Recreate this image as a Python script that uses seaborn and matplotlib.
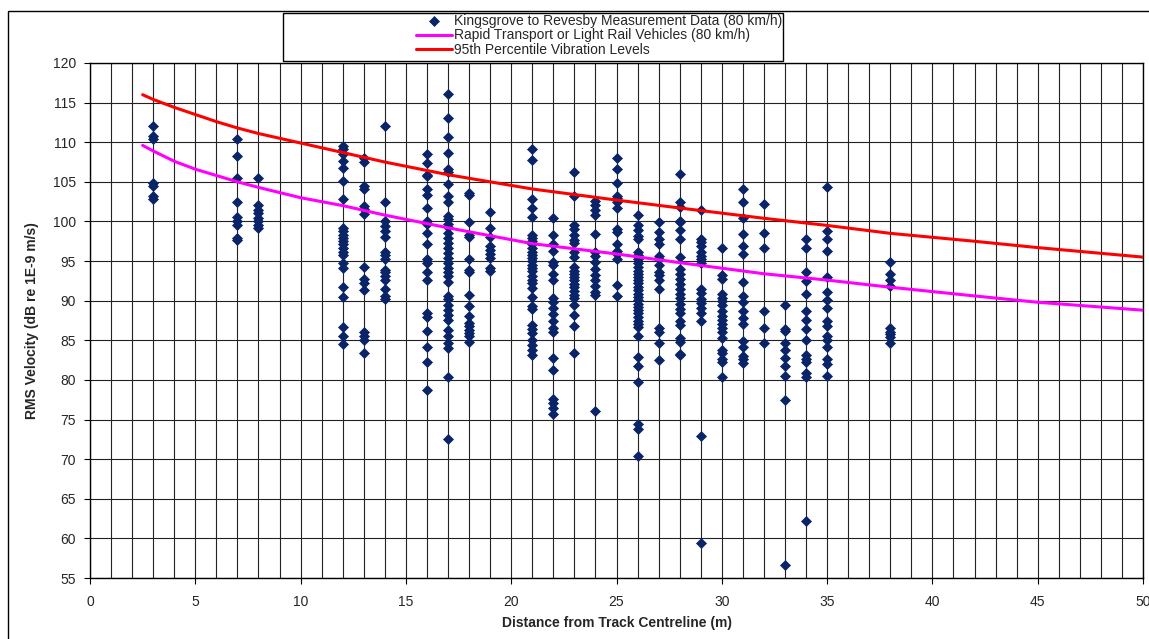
import numpy as np
import pandas as pd
import matplotlib
matplotlib.use("Agg")
import matplotlib.pyplot as plt
from matplotlib.patches import Rectangle
import seaborn as sns

# measured RMS velocity at each distance (dB re 1E-9 m/s)
meas_dist = [3, 7, 8, 12, 13, 14, 16, 17, 18, 19, 21, 22, 23, 24, 25, 26, 27, 28, 29, 30, 31, 32, 33, 34, 35, 38]
meas_db = [
    [112.1, 110.8, 110.4, 104.8, 104.5, 103.2, 102.8],
    [110.4, 108.2, 105.5, 102.5, 100.6, 100.0, 99.6, 97.9, 97.6],
    [105.5, 102.1, 101.5, 101.1, 100.4, 100.0, 99.6, 99.2],
    [109.5, 109.1, 108.5, 107.6, 106.8, 105.1, 102.8, 99.2, 98.8, 98.3, 97.9, 97.5, 97.1, 96.6, 96.2,
     95.8, 94.7, 94.1, 91.7, 90.5, 86.7, 85.5, 84.5],
    [108.0, 107.5, 104.5, 104.1, 101.9, 101.6, 100.9, 94.2, 92.8, 92.2, 91.4, 86.1, 85.5, 85.0, 83.4],
    [112.0, 102.5, 100.1, 99.4, 98.8, 98.0, 96.2, 95.8, 95.2, 93.9, 93.6, 93.1, 92.6, 91.5, 90.6, 90.2],
    [108.5, 107.4, 105.9, 105.7, 104.1, 103.4, 101.7, 100.1, 99.7, 98.5, 97.2, 95.3, 94.7, 93.6, 92.6,
     88.4, 88.0, 86.2, 84.1, 82.2, 78.7],
    [116.1, 113.0, 110.6, 108.6, 106.6, 106.2, 104.7, 103.2, 102.4, 100.7, 100.3, 99.7, 99.3, 98.6, 97.9,
     97.3, 96.6, 96.0, 95.4, 94.7, 94.1, 93.6, 93.1, 92.4, 90.6, 90.2, 89.5, 88.8, 88.2, 87.6, 86.3,
     85.5, 84.7, 84.0, 80.4, 72.6],
    [103.6, 103.3, 99.9, 98.3, 98.1, 95.2, 93.9, 93.6, 90.7, 89.3, 88.1, 87.2, 86.8, 86.3, 85.9, 85.5, 84.8],
    [101.2, 99.2, 98.0, 96.9, 96.4, 95.9, 95.4, 94.1, 93.7],
    [109.1, 107.8, 102.8, 101.7, 100.6, 98.3, 97.9, 97.5, 97.1, 96.6, 96.2, 95.8, 95.4, 95.0, 94.5, 94.1,
     93.7, 93.1, 92.6, 92.2, 91.6, 90.5, 89.3, 88.9, 86.9, 86.4, 85.9, 85.0, 84.4, 83.8, 83.1],
    [100.4, 98.3, 97.2, 96.3, 94.9, 94.5, 93.4, 92.6, 90.3, 89.8, 89.1, 88.3, 87.4, 86.6, 86.0, 82.8,
     81.3, 77.6, 77.1, 76.4, 75.7],
    [106.3, 103.2, 99.5, 99.1, 98.3, 97.6, 97.3, 96.1, 95.5, 94.2, 93.8, 93.4, 93.0, 92.6, 92.1, 91.7,
     91.2, 90.7, 90.3, 89.4, 88.2, 86.8, 83.4],
    [102.6, 102.1, 101.4, 100.8, 98.4, 96.1, 95.7, 94.9, 94.0, 93.2, 92.6, 91.8, 91.1, 90.7, 76.1],
    [108.0, 106.6, 104.9, 103.2, 102.9, 102.4, 101.7, 99.1, 98.7, 97.2, 96.3, 95.9, 95.2, 92.0, 90.6],
    [100.8, 99.6, 98.9, 98.2, 97.8, 96.2, 95.8, 95.3, 94.8, 94.2, 93.8, 93.4, 93.0, 92.6, 92.2, 91.7,
     91.3, 90.9, 90.5, 90.1, 89.6, 89.2, 88.8, 88.4, 87.9, 87.5, 87.1, 86.7, 85.5, 82.9, 81.7, 79.8,
     74.5, 73.8, 70.4],
    [99.9, 98.7, 97.8, 97.2, 95.7, 95.3, 94.5, 93.6, 93.2, 92.6, 91.5, 86.6, 86.1, 84.7, 82.5],
    [106.0, 102.4, 101.8, 100.1, 99.9, 98.9, 97.8, 95.5, 94.0, 93.4, 92.8, 92.1, 91.5, 90.9, 90.3, 89.6,
     89.0, 88.4, 87.5, 86.9, 85.3, 84.8, 83.3, 83.1],
    [101.4, 97.8, 97.4, 96.9, 96.2, 95.7, 95.2, 94.8, 91.5, 91.0, 90.2, 89.7, 89.1, 88.5, 87.4, 72.9, 59.4],
    [96.7, 93.2, 92.7, 90.8, 90.4, 90.0, 89.4, 88.7, 88.1, 87.6, 87.1, 86.5, 86.0, 85.3, 83.8, 83.4,
     82.6, 82.2, 80.4],
    [104.1, 102.4, 100.5, 98.4, 96.9, 95.9, 92.3, 90.6, 89.8, 88.7, 87.8, 87.1, 84.9, 84.2, 83.0, 82.6, 82.1],
    [102.2, 98.6, 96.6, 88.7, 86.5, 84.6],
    [89.5, 86.4, 86.2, 84.7, 83.8, 82.8, 81.7, 80.5, 77.5, 56.7],
    [97.8, 96.7, 93.6, 92.5, 90.8, 88.7, 87.6, 86.4, 85.1, 83.2, 82.7, 82.2, 80.9, 80.4, 62.2],
    [104.3, 98.8, 97.8, 96.3, 93.0, 91.1, 90.1, 89.1, 87.4, 86.8, 85.5, 85.1, 84.1, 82.6, 82.0, 80.5],
    [94.9, 93.4, 92.6, 91.8, 86.5, 86.1, 85.8, 85.4, 84.6],
]

# curves
curve_dist = [2.5, 3, 4, 5, 6, 7, 8, 10, 12, 14, 17, 21, 25, 28, 32, 35, 38, 42, 45, 50]
rail_db = [109.6, 108.9, 107.6, 106.6, 105.8, 105.0, 104.3, 103.0, 102.0, 100.8, 99.2, 97.2, 95.9,
           94.8, 93.4, 92.6, 91.7, 90.6, 89.8, 88.8]
p95_db = [116.0, 115.4, 114.4, 113.5, 112.6, 111.8, 111.1, 109.9, 108.7, 107.5, 105.9, 104.1, 102.7,
          101.7, 100.4, 99.5, 98.5, 97.5, 96.7, 95.5]

lbl_meas = "Kingsgrove to Revesby Measurement Data (80 km/h)"
lbl_rail = "Rapid Transport or Light Rail Vehicles (80 km/h)"
lbl_p95 = "95th Percentile Vibration Levels"

meas = pd.DataFrame({
    "dist": [d for d, vals in zip(meas_dist, meas_db) for _ in vals],
    "db": [v for vals in meas_db for v in vals],
})
curves = pd.DataFrame({"dist": curve_dist, "rail": rail_db, "p95": p95_db})

sns.set_style("white")
plt.rcParams["font.family"] = ["Liberation Sans", "DejaVu Sans"]

fig = plt.figure(figsize=(11.49, 6.39), dpi=100)
ax = fig.add_axes([90 / 1149, 1 - 578 / 639, 1053 / 1149, 515 / 639])

sns.scatterplot(data=meas, x="dist", y="db", ax=ax, marker="D", s=26, color="#0a2468",
                edgecolor="#0a2468", linewidth=0.5, label=lbl_meas, zorder=3)
sns.lineplot(data=curves, x="dist", y="rail", ax=ax, color="#ff00ff", linewidth=2.2,
             label=lbl_rail, zorder=4)
sns.lineplot(data=curves, x="dist", y="p95", ax=ax, color="#ff0000", linewidth=2.2,
             label=lbl_p95, zorder=4)

ax.set_xlim(0, 50)
ax.set_ylim(55, 120)
ax.set_xticks(np.arange(0, 51, 5))
ax.set_xticks(np.arange(0, 51, 1), minor=True)
ax.set_yticks(np.arange(55, 121, 5))
ax.grid(axis="x", which="both", color="#222222", linewidth=0.8)
ax.grid(axis="y", which="major", color="#222222", linewidth=0.8)
ax.set_axisbelow(True)
ax.tick_params(axis="both", which="major", direction="out", length=4, width=0.8, color="black",
               labelsize=10, bottom=True, left=True)
ax.tick_params(axis="x", which="minor", length=0)
ax.tick_params(axis="x", pad=8)
ax.tick_params(axis="y", pad=6)
for sp in ax.spines.values():
    sp.set_color("black")
    sp.set_linewidth(1.0)

ax.set_xlabel("Distance from Track Centreline (m)", fontsize=10, fontweight="bold")
ax.set_ylabel("RMS Velocity (dB re 1E-9 m/s)", fontsize=10, fontweight="bold")
ax.xaxis.set_label_coords(0.5, -0.073)
ax.yaxis.set_label_coords(-0.048, 0.5)

handles, labels = ax.get_legend_handles_labels()
ax.legend(handles, labels, loc="upper right", bbox_to_anchor=(785 / 1149, 1 - 11 / 639),
          bbox_transform=fig.transFigure, frameon=False, fontsize=10, handlelength=2.6,
          handletextpad=0.15, labelspacing=0.05, borderpad=0.2, borderaxespad=0)

# legend box and outer chart border
fig.add_artist(Rectangle((283 / 1149, 1 - 61 / 639), 500 / 1149, 48 / 639,
                         transform=fig.transFigure, fill=False, edgecolor="black", linewidth=1.0))
fig.add_artist(Rectangle((8 / 1149, -0.05), 1.2, 1.05 - 11 / 639,
                         transform=fig.transFigure, fill=False, edgecolor="black", linewidth=1.0))

fig.savefig("out.png", dpi=100)
